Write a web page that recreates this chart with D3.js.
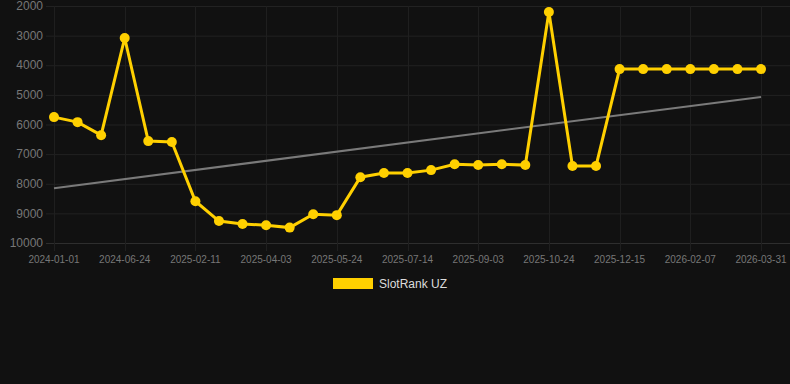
<!DOCTYPE html>
<html>
<head>
<meta charset="utf-8">
<script src="https://cdn.jsdelivr.net/npm/d3@7"></script>
<style>
  html, body { margin: 0; padding: 0; background: #111111; }
  svg { display: block; }
</style>
</head>
<body>
<div id="chart"></div>
<script>
// category labels, one per point
const dates = [
  "2024-01-01", "2024-02-28", "2024-04-26", "2024-06-24", "2024-09-10", "2024-11-27",
  "2025-02-11", "2025-02-28", "2025-03-17", "2025-04-03", "2025-04-20", "2025-05-07",
  "2025-05-24", "2025-06-10", "2025-06-27", "2025-07-14", "2025-07-31", "2025-08-17",
  "2025-09-03", "2025-09-20", "2025-10-07", "2025-10-24", "2025-11-10", "2025-11-27",
  "2025-12-15", "2026-01-01", "2026-01-19", "2026-02-07", "2026-02-24", "2026-03-13",
  "2026-03-31"
];
const rankValues = [
  5750, 5920, 6360, 3080, 6560, 6590,
  8590, 9260, 9360, 9400, 9480, 9030,
  9060, 7780, 7640, 7640, 7540, 7340,
  7370, 7340, 7370, 2200, 7400, 7400,
  4130, 4130, 4130, 4130, 4130, 4130,
  4130
];
const trendValues = [8150, 5070]; // first and last point of the trend line
const yTicks = [2000, 3000, 4000, 5000, 6000, 7000, 8000, 9000, 10000];
const seriesName = "SlotRank UZ";

const W = 790, H = 384;
const margin = {top: 6, right: 29, bottom: 141, left: 54};

const svg = d3.select("#chart").append("svg")
  .attr("width", W).attr("height", H);

svg.append("rect").attr("width", W).attr("height", H).attr("fill", "#111111");

const x = d3.scalePoint()
  .domain(dates)
  .range([margin.left, W - margin.right]);

const y = d3.scaleLinear()
  .domain([2000, 10000])
  .range([margin.top, H - margin.bottom]);

const shownDates = dates.filter((d, i) => i % 3 === 0);

// horizontal grid
svg.append("g")
  .selectAll("line")
  .data(yTicks)
  .join("line")
  .attr("x1", margin.left - 8)
  .attr("x2", W)
  .attr("y1", d => y(d) + 0.5)
  .attr("y2", d => y(d) + 0.5)
  .attr("stroke", d => d === 10000 ? "#2e2e2e" : "#222222")
  .attr("stroke-width", 1);

// vertical grid
svg.append("g")
  .selectAll("line")
  .data(shownDates)
  .join("line")
  .attr("x1", d => Math.round(x(d)) + 0.5)
  .attr("x2", d => Math.round(x(d)) + 0.5)
  .attr("y1", margin.top)
  .attr("y2", H - margin.bottom + 8)
  .attr("stroke", "#1f1f1f")
  .attr("stroke-width", 1);

// y labels
svg.append("g")
  .selectAll("text")
  .data(yTicks)
  .join("text")
  .attr("x", 43)
  .attr("y", d => y(d))
  .attr("dy", "0.35em")
  .attr("text-anchor", "end")
  .attr("fill", "#777777")
  .style("font-family", "Liberation Sans, Arial, sans-serif")
  .style("font-size", "12px")
  .text(d => d);

// x labels
svg.append("g")
  .selectAll("text")
  .data(shownDates)
  .join("text")
  .attr("x", d => x(d))
  .attr("y", 259)
  .attr("dy", "0.35em")
  .attr("text-anchor", "middle")
  .attr("fill", "#777777")
  .style("font-family", "Liberation Sans, Arial, sans-serif")
  .style("font-size", "10px")
  .text(d => d);

// trend line
svg.append("line")
  .attr("x1", x(dates[0]))
  .attr("y1", y(trendValues[0]))
  .attr("x2", x(dates[dates.length - 1]))
  .attr("y2", y(trendValues[1]))
  .attr("stroke", "#7a7a7a")
  .attr("stroke-width", 2);

const data = dates.map((d, i) => ({date: d, value: rankValues[i]}));

const line = d3.line()
  .x(d => x(d.date))
  .y(d => y(d.value));

svg.append("path")
  .datum(data)
  .attr("d", line)
  .attr("fill", "none")
  .attr("stroke", "#ffd000")
  .attr("stroke-width", 3)
  .attr("stroke-linejoin", "miter");

svg.append("g")
  .selectAll("circle")
  .data(data)
  .join("circle")
  .attr("cx", d => x(d.date))
  .attr("cy", d => y(d.value))
  .attr("r", 5)
  .attr("fill", "#ffd000");

// legend
const legend = svg.append("g");
legend.append("rect")
  .attr("x", 333).attr("y", 278)
  .attr("width", 40).attr("height", 11)
  .attr("fill", "#ffd000");
legend.append("text")
  .attr("x", 379).attr("y", 284)
  .attr("dy", "0.35em")
  .attr("fill", "#dddddd")
  .style("font-family", "Liberation Sans, Arial, sans-serif")
  .style("font-size", "12px")
  .text(seriesName);
</script>
</body>
</html>
